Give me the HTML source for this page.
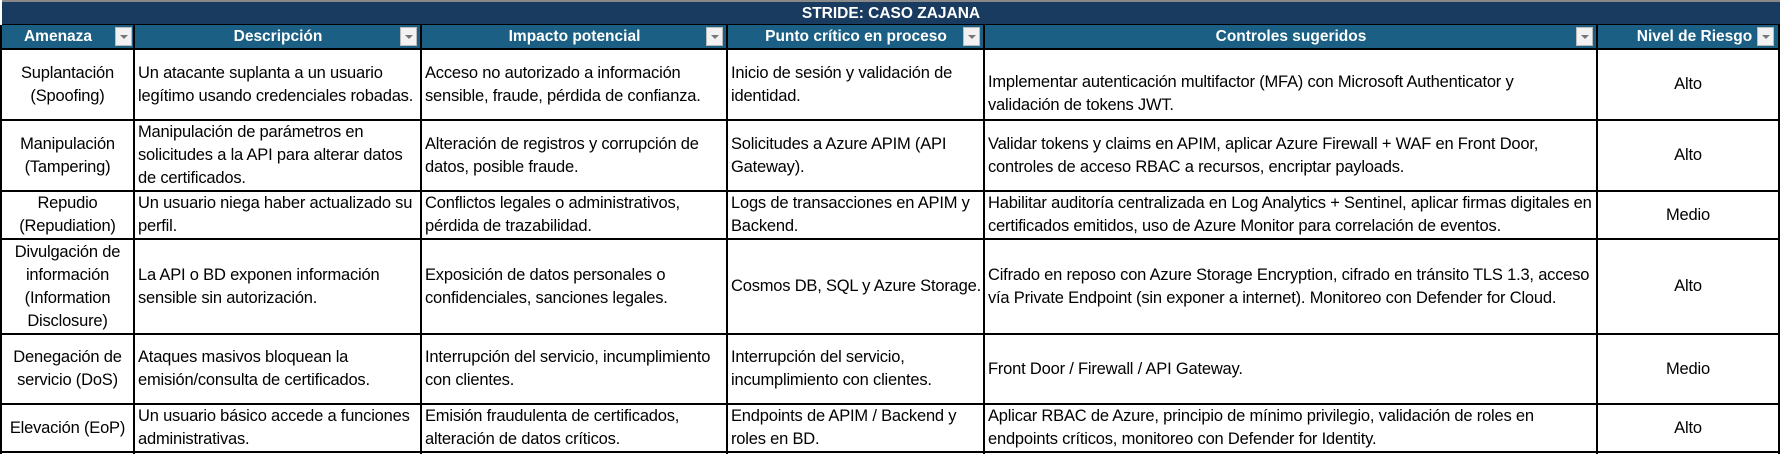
<!DOCTYPE html>
<html><head><meta charset="utf-8"><style>
body{margin:0;width:1783px;height:456px;background:#fff;position:relative;overflow:hidden;font-family:"Liberation Sans",sans-serif;}
.c{position:absolute;display:flex;align-items:center;box-sizing:border-box;padding:0 3px;font-size:16.5px;line-height:23px;color:#000;letter-spacing:-0.2px;white-space:nowrap;}
.ctr{justify-content:center;text-align:center;}
.bot{align-items:flex-end;padding-bottom:2px;}
.h{position:absolute;top:25px;height:24px;background:#1b5f84;color:#fff;font-weight:bold;font-size:15.5px;display:flex;align-items:center;justify-content:center;box-sizing:border-box;}
.dd{position:absolute;top:27px;width:17px;height:19px;background:#f2f2f2;border:1px solid #bbb;box-sizing:border-box;}
.dd:after{content:"";position:absolute;left:4px;top:7px;border-left:4px solid transparent;border-right:4px solid transparent;border-top:4px solid #777;}
.vl{position:absolute;width:2px;background:#000;}
.hl{position:absolute;height:2px;background:#000;left:2px;width:1778px;}
</style></head><body>
<div style="position:absolute;left:2px;top:0;width:1778px;height:2px;background:#888"></div>
<div style="position:absolute;left:2px;top:2px;width:1778px;height:23px;background:#1a3b60;color:#fff;font-weight:bold;font-size:15.5px;display:flex;align-items:center;justify-content:center;">STRIDE: CASO ZAJANA</div>
<div style="position:absolute;left:2px;top:24px;width:1778px;height:1px;background:#000"></div>
<div class="h" style="left:2px;width:132px;padding-right:20px">Amenaza</div>
<div class="h" style="left:135px;width:286px">Descripción</div>
<div class="h" style="left:422px;width:305px">Impacto potencial</div>
<div class="h" style="left:728px;width:256px">Punto crítico en proceso</div>
<div class="h" style="left:985px;width:612px">Controles sugeridos</div>
<div class="h" style="left:1598px;width:181px;padding-left:12px">Nivel de Riesgo</div>
<div class="dd" style="left:115px"></div>
<div class="dd" style="left:400px"></div>
<div class="dd" style="left:706px"></div>
<div class="dd" style="left:963px"></div>
<div class="dd" style="left:1576px"></div>
<div class="dd" style="left:1757px"></div>

<div class="vl" style="left:0;top:25px;height:429px"></div>
<div class="vl" style="left:133px;top:25px;height:429px"></div>
<div class="vl" style="left:420px;top:25px;height:429px"></div>
<div class="vl" style="left:726px;top:25px;height:429px"></div>
<div class="vl" style="left:983px;top:25px;height:429px"></div>
<div class="vl" style="left:1596px;top:25px;height:429px"></div>
<div class="vl" style="left:1778px;top:25px;height:429px"></div>
<div class="hl" style="top:48px"></div>
<div class="hl" style="top:119px"></div>
<div class="hl" style="top:190px"></div>
<div class="hl" style="top:238px"></div>
<div class="hl" style="top:333px"></div>
<div class="hl" style="top:403px"></div>
<div class="hl" style="top:451px"></div>

<!-- row 1 -->
<div class="c ctr" style="left:2px;top:50px;width:131px;height:69px">Suplantación<br>(Spoofing)</div>
<div class="c" style="left:135px;top:50px;width:285px;height:69px">Un atacante suplanta a un usuario<br>legítimo usando credenciales robadas.</div>
<div class="c" style="left:422px;top:50px;width:304px;height:69px">Acceso no autorizado a información<br>sensible, fraude, pérdida de confianza.</div>
<div class="c" style="left:728px;top:50px;width:255px;height:69px">Inicio de sesión y validación de<br>identidad.</div>
<div class="c bot" style="left:985px;top:50px;width:611px;height:69px">Implementar autenticación multifactor (MFA) con Microsoft Authenticator y<br>validación de tokens JWT.</div>
<div class="c ctr" style="left:1598px;top:50px;width:180px;height:69px">Alto</div>
<!-- row 2 -->
<div class="c ctr" style="left:2px;top:121px;width:131px;height:69px">Manipulación<br>(Tampering)</div>
<div class="c" style="left:135px;top:121px;width:285px;height:69px">Manipulación de parámetros en<br>solicitudes a la API para alterar datos<br>de certificados.</div>
<div class="c" style="left:422px;top:121px;width:304px;height:69px">Alteración de registros y corrupción de<br>datos, posible fraude.</div>
<div class="c" style="left:728px;top:121px;width:255px;height:69px">Solicitudes a Azure APIM (API<br>Gateway).</div>
<div class="c" style="left:985px;top:121px;width:611px;height:69px">Validar tokens y claims en APIM, aplicar Azure Firewall + WAF en Front Door,<br>controles de acceso RBAC a recursos, encriptar payloads.</div>
<div class="c ctr" style="left:1598px;top:121px;width:180px;height:69px">Alto</div>
<!-- row 3 -->
<div class="c ctr" style="left:2px;top:192px;width:131px;height:46px">Repudio<br>(Repudiation)</div>
<div class="c" style="left:135px;top:192px;width:285px;height:46px">Un usuario niega haber actualizado su<br>perfil.</div>
<div class="c" style="left:422px;top:192px;width:304px;height:46px">Conflictos legales o administrativos,<br>pérdida de trazabilidad.</div>
<div class="c" style="left:728px;top:192px;width:255px;height:46px">Logs de transacciones en APIM y<br>Backend.</div>
<div class="c" style="left:985px;top:192px;width:611px;height:46px">Habilitar auditoría centralizada en Log Analytics + Sentinel, aplicar firmas digitales en<br>certificados emitidos, uso de Azure Monitor para correlación de eventos.</div>
<div class="c ctr" style="left:1598px;top:192px;width:180px;height:46px">Medio</div>
<!-- row 4 -->
<div class="c ctr" style="left:2px;top:240px;width:131px;height:93px">Divulgación de<br>información<br>(Information<br>Disclosure)</div>
<div class="c" style="left:135px;top:240px;width:285px;height:93px">La API o BD exponen información<br>sensible sin autorización.</div>
<div class="c" style="left:422px;top:240px;width:304px;height:93px">Exposición de datos personales o<br>confidenciales, sanciones legales.</div>
<div class="c" style="left:728px;top:240px;width:255px;height:93px">Cosmos DB, SQL y Azure Storage.</div>
<div class="c" style="left:985px;top:240px;width:611px;height:93px">Cifrado en reposo con Azure Storage Encryption, cifrado en tránsito TLS 1.3, acceso<br>vía Private Endpoint (sin exponer a internet). Monitoreo con Defender for Cloud.</div>
<div class="c ctr" style="left:1598px;top:240px;width:180px;height:93px">Alto</div>
<!-- row 5 -->
<div class="c ctr" style="left:2px;top:335px;width:131px;height:68px">Denegación de<br>servicio (DoS)</div>
<div class="c" style="left:135px;top:335px;width:285px;height:68px">Ataques masivos bloquean la<br>emisión/consulta de certificados.</div>
<div class="c" style="left:422px;top:335px;width:304px;height:68px">Interrupción del servicio, incumplimiento<br>con clientes.</div>
<div class="c" style="left:728px;top:335px;width:255px;height:68px">Interrupción del servicio,<br>incumplimiento con clientes.</div>
<div class="c" style="left:985px;top:335px;width:611px;height:68px">Front Door / Firewall / API Gateway.</div>
<div class="c ctr" style="left:1598px;top:335px;width:180px;height:68px">Medio</div>
<!-- row 6 -->
<div class="c ctr" style="left:2px;top:405px;width:131px;height:46px">Elevación (EoP)</div>
<div class="c" style="left:135px;top:405px;width:285px;height:46px">Un usuario básico accede a funciones<br>administrativas.</div>
<div class="c" style="left:422px;top:405px;width:304px;height:46px">Emisión fraudulenta de certificados,<br>alteración de datos críticos.</div>
<div class="c" style="left:728px;top:405px;width:255px;height:46px">Endpoints de APIM / Backend y<br>roles en BD.</div>
<div class="c" style="left:985px;top:405px;width:611px;height:46px">Aplicar RBAC de Azure, principio de mínimo privilegio, validación de roles en<br>endpoints críticos, monitoreo con Defender for Identity.</div>
<div class="c ctr" style="left:1598px;top:405px;width:180px;height:46px">Alto</div>
</body></html>
